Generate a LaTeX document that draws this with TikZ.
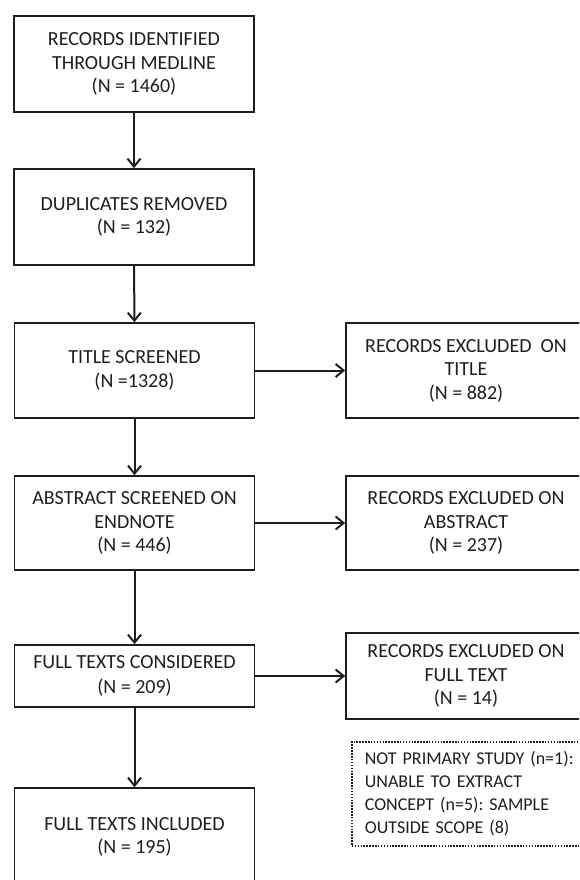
\documentclass[tikz,border=0pt]{standalone}
\usepackage{fontspec}
\setmainfont{Carlito}
\usetikzlibrary{arrows.meta}
\definecolor{ink}{HTML}{1E1E1E}
\frenchspacing
\begin{document}
\begin{tikzpicture}[x=1pt,y=-1pt,
  every node/.style={font=\fontsize{20}{23.5}\selectfont, text=ink},
  stage/.style={draw=ink, line width=1.6pt, minimum width=240pt, align=center, inner sep=0pt},
  excl/.style={stage},
  note/.style={draw=ink, line width=1.7pt, dash pattern=on 1.5pt off 1.4pt,
    font=\fontsize{18}{22.8}\selectfont,
    align=left, inner xsep=13pt, inner ysep=0pt, anchor=north west,
    minimum height=104pt, text width=260pt},
  flow/.style={draw=ink, line width=2pt, -{Straight Barb[length=8pt,width=13pt]}}]
\useasboundingbox (0,0) rectangle (579,880);
\clip (0,0) rectangle (579,880);

% main column
\node[stage, minimum height=96pt] (b1) at (134,64)
  {RECORDS IDENTIFIED\\THROUGH MEDLINE\\(N = 1460)};
\node[stage, minimum height=96pt] (b2) at (134,217)
  {DUPLICATES REMOVED\\(N = 132)};
\node[stage, minimum height=95pt] (b3) at (134.5,370.5)
  {TITLE SCREENED\\(N =1328)};
\node[stage, minimum height=94pt] (b4) at (134.5,523)
  {ABSTRACT SCREENED ON\\ENDNOTE\\(N = 446)};
\node[stage, minimum height=62pt] (b5) at (134.5,676)
  {FULL TEXTS CONSIDERED\\[2pt](N = 209)};
\node[stage, minimum height=98pt] (b6) at (134.5,837)
  {FULL TEXTS INCLUDED\\(N = 195)};

% exclusions
\node[excl, minimum height=95pt] (r1) at (466,370.5)
  {RECORDS EXCLUDED\ \ ON\\TITLE\\(N = 882)};
\node[excl, minimum height=94pt] (r2) at (466,523)
  {RECORDS EXCLUDED ON\\ABSTRACT\\(N = 237)};
\node[excl, minimum height=86pt] (r3) at (466,676)
  {RECORDS EXCLUDED ON\\FULL TEXT\\(N = 14)};
\node[note] (n1) at (351,741)
  {NOT PRIMARY STUDY (n=1):\\UNABLE TO EXTRACT\\CONCEPT (n=5): SAMPLE\\OUTSIDE SCOPE (8)};

% connectors
\draw[flow] (b1) -- (b2);
\draw[flow] (b2) -- (b3);
\draw[flow] (b3) -- (b4);
\draw[flow] (b4) -- (b5);
\draw[flow] (b5) -- (b6);
\draw[flow] (b3) -- (r1);
\draw[flow] (b4) -- (r2);
\draw[flow] (b5) -- (r3);
\end{tikzpicture}
\end{document}
